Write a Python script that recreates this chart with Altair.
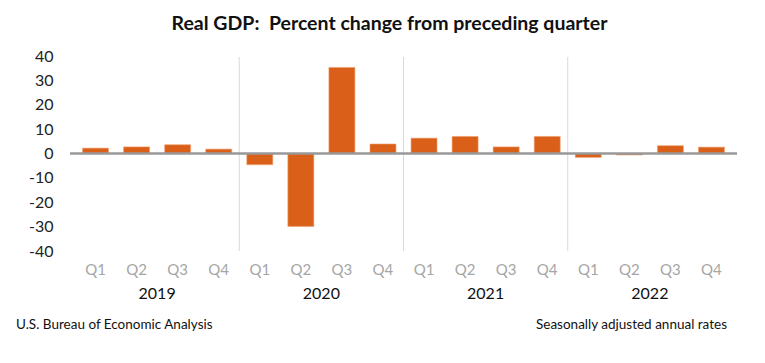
import altair as alt
import pandas as pd

years = ["2019", "2020", "2021", "2022"]
quarters = ["Q1", "Q2", "Q3", "Q4"]
values = [2.2, 2.7, 3.6, 1.8,
          -4.6, -29.9, 35.3, 3.9,
          6.3, 7.0, 2.7, 7.0,
          -1.6, -0.6, 3.2, 2.6]
y_ticks = [40, 30, 20, 10, 0, -10, -20, -30, -40]

rows = []
for i, v in enumerate(values):
    rows.append({"idx": i, "year": years[i // 4], "q": quarters[i % 4], "value": v})
df = pd.DataFrame(rows)
year_df = pd.DataFrame({"year": years, "mid": [4 * k + 1.5 for k in range(4)]})
sep_df = pd.DataFrame({"pos": [3.5, 7.5, 11.5]})
zero_df = pd.DataFrame({"z": [0]})

FONT = "Lato"
W, H = 667, 195
xs = alt.Scale(domain=[-0.5, 15.5], nice=False, zero=False)
ys = alt.Scale(domain=[-40, 40], nice=False)

yaxis = alt.Axis(values=y_ticks, grid=False, domain=False, ticks=False,
                 labelFontSize=16, labelColor="#222222", labelFont=FONT,
                 labelOverlap=False, labelExpr="toString(datum.value)",
                 labelPadding=17, title=None)

base_x = alt.X("idx:Q", scale=xs, axis=None)

seps = alt.Chart(sep_df).mark_rule(color="#d9d9d9", strokeWidth=1).encode(
    x=alt.X("pos:Q", scale=xs, axis=None),
    y=alt.value(1), y2=alt.value(H)
)

bars = alt.Chart(df).mark_bar(size=26, color="#DA6019", stroke="#F0A070", strokeWidth=0.6).encode(
    x=base_x,
    y=alt.Y("value:Q", scale=ys, axis=yaxis),
    y2=alt.datum(0)
)

zero = alt.Chart(zero_df).mark_rule(color="#999999", strokeWidth=2.5).encode(
    y=alt.Y("z:Q", scale=ys, axis=yaxis), x=alt.value(0), x2=alt.value(W)
)

qlabels = alt.Chart(df).mark_text(font=FONT, fontSize=15, color="#a6a6a6", baseline="middle").encode(
    x=base_x, y=alt.value(H + 19), text="q:N"
)

ylabels = alt.Chart(year_df).mark_text(font=FONT, fontSize=16, color="#111111", baseline="middle").encode(
    x=alt.X("mid:Q", scale=xs, axis=None), y=alt.value(H + 43), text="year:N"
)

foot_left = alt.Chart(zero_df).mark_text(font=FONT, fontSize=13.5, color="#111111", align="left",
                                          baseline="middle", text="U.S. Bureau of Economic Analysis").encode(
    x=alt.value(-54), y=alt.value(H + 74)
)
foot_right = alt.Chart(zero_df).mark_text(font=FONT, fontSize=13.5, color="#111111", align="right",
                                           baseline="middle", text="Seasonally adjusted annual rates").encode(
    x=alt.value(657), y=alt.value(H + 74)
)

chart = alt.layer(bars, seps, zero, qlabels, ylabels, foot_left, foot_right).properties(
    width=W, height=H,
    title=alt.TitleParams("Real GDP:\u00a0 Percent change from preceding quarter", font=FONT,
                          fontSize=19.5, fontWeight="bold", color="#111111", anchor="middle",
                          dx=-14, offset=14),
    autosize=alt.AutoSizeParams(type="none"),
    padding={"left": 62, "top": 48, "right": 20, "bottom": 100}
).configure_view(stroke=None)

chart.save("out.html", embed_options={"renderer": "svg", "actions": False})
